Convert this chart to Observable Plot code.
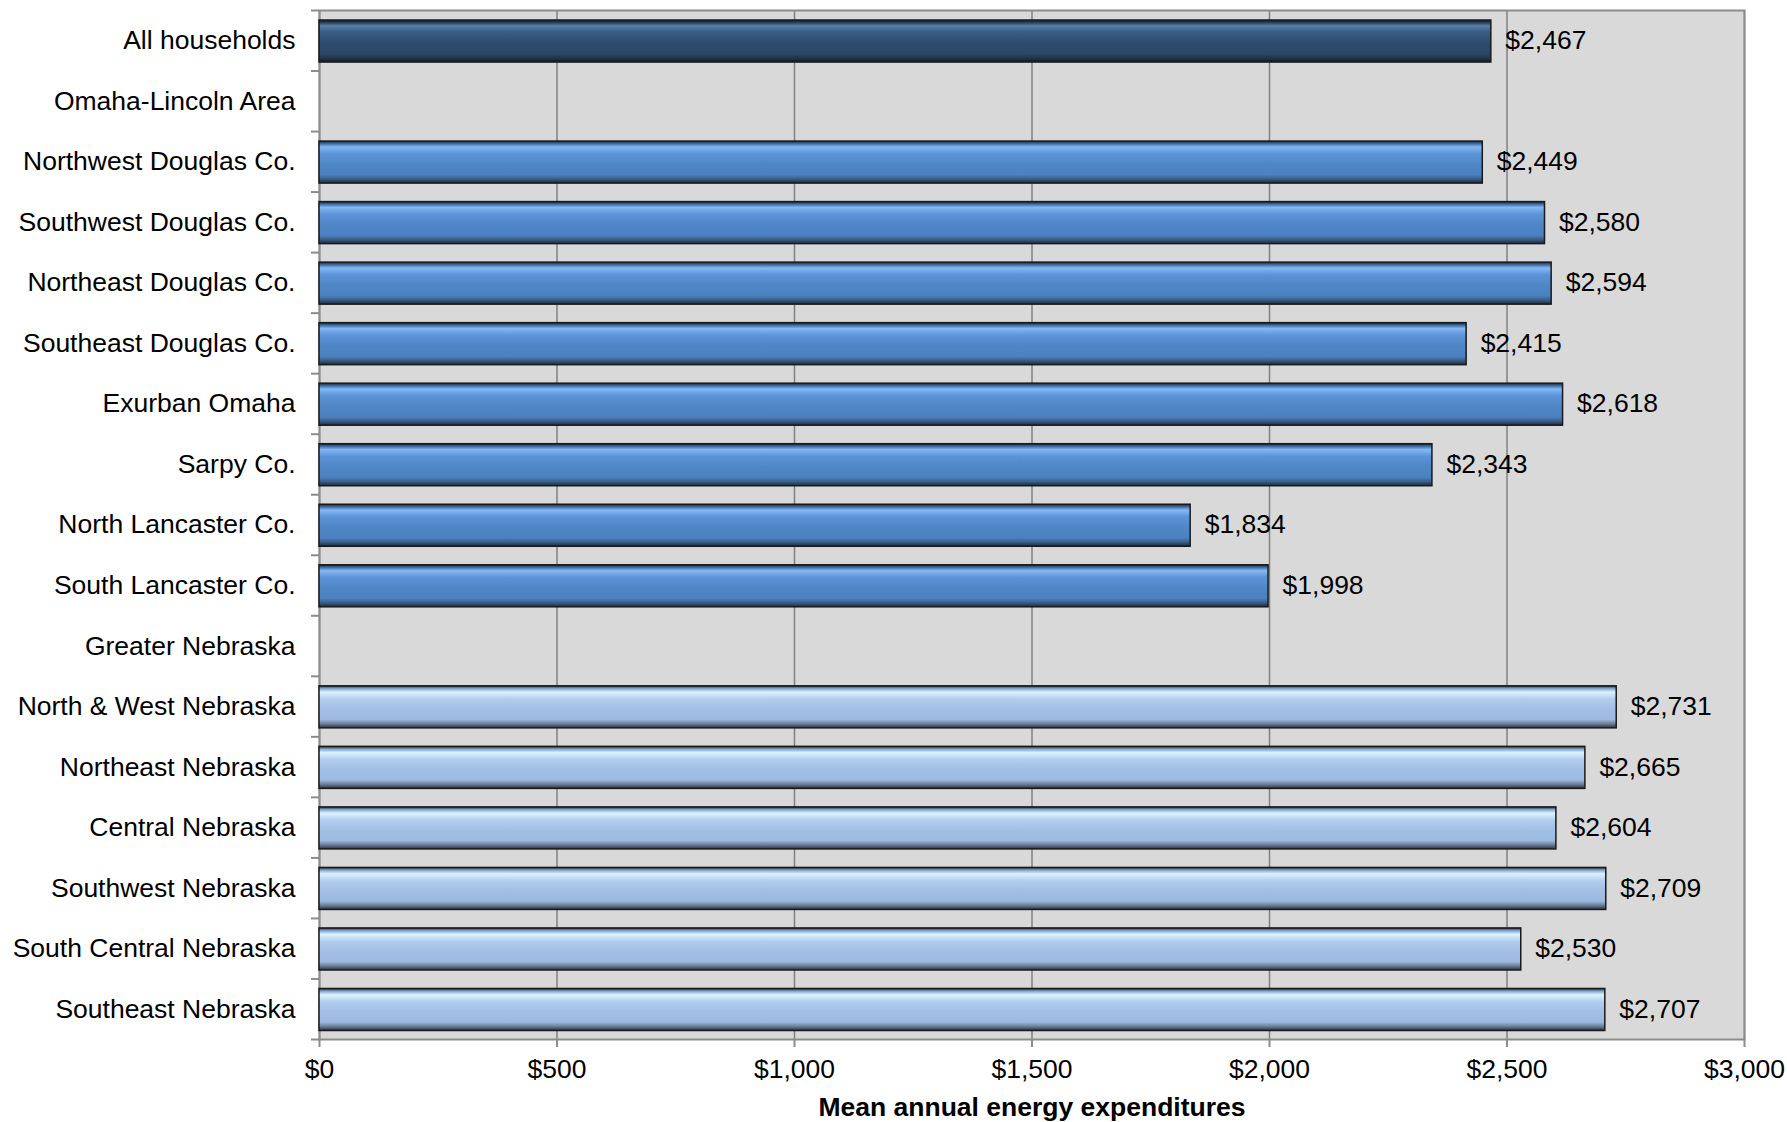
<!DOCTYPE html>
<html>
<head>
<meta charset="utf-8">
<script src="https://cdn.jsdelivr.net/npm/d3@7"></script>
<script src="https://cdn.jsdelivr.net/npm/@observablehq/plot@0.6"></script>
<style>
  html, body { margin: 0; padding: 0; background: #ffffff; }
  #chart svg { display: block; }
</style>
</head>
<body>
<div id="chart"></div>
<script>
const categories = [
  "All households",
  "Omaha-Lincoln Area",
  "Northwest Douglas Co.",
  "Southwest Douglas Co.",
  "Northeast Douglas Co.",
  "Southeast Douglas Co.",
  "Exurban Omaha",
  "Sarpy Co.",
  "North Lancaster Co.",
  "South Lancaster Co.",
  "Greater Nebraska",
  "North & West Nebraska",
  "Northeast Nebraska",
  "Central Nebraska",
  "Southwest Nebraska",
  "South Central Nebraska",
  "Southeast Nebraska"
];
const values = [2467, null, 2449, 2580, 2594, 2415, 2618, 2343, 1834, 1998, null, 2731, 2665, 2604, 2709, 2530, 2707];
const groups = ["all", "header", "omaha", "omaha", "omaha", "omaha", "omaha", "omaha", "omaha", "omaha", "header", "greater", "greater", "greater", "greater", "greater", "greater"];
const xTicks = [0, 500, 1000, 1500, 2000, 2500, 3000];
const xLabel = "Mean annual energy expenditures";

const data = categories.map((c, i) => ({category: c, value: values[i], group: groups[i]}));
const bars = data.filter(d => d.value != null);
const money = d => "$" + d3.format(",")(d);

const font = "'Liberation Sans', Arial, sans-serif";
const barOpts = g => ({
  filter: d => d.group === g,
  x: "value", y: "category",
  fill: `url(#grad-${g})`,
  stroke: "#1a1a1a", strokeWidth: 1.5,
  insetTop: 10, insetBottom: 8.5
});

const chart = Plot.plot({
  width: 1787,
  height: 1122,
  marginLeft: 319,
  marginRight: 43,
  marginTop: 10,
  marginBottom: 83,
  style: {fontFamily: font, fontSize: "26.5px", color: "#000", background: "#ffffff"},
  x: {domain: [0, 3000], ticks: xTicks},
  y: {domain: categories, padding: 0, round: false},
  marks: [
    Plot.frame({fill: "#d9d9d9", stroke: null}),
    Plot.gridX(xTicks, {stroke: "#808080", strokeOpacity: 1, strokeWidth: 1.5}),
    Plot.frame({stroke: "#8c8c8c", strokeWidth: 2}),
    Plot.barX(bars, barOpts("all")),
    Plot.barX(bars, barOpts("omaha")),
    Plot.barX(bars, barOpts("greater")),
    Plot.text(bars, {x: "value", y: "category", text: d => money(d.value), textAnchor: "start", dx: 14, dy: 0, fontSize: 26.5, fill: "#000"}),
    Plot.axisY({tickSize: 0, tickPadding: 24, fontSize: 26.5, label: null}),
    Plot.axisY({tickSize: 8, tickFormat: () => "", stroke: "#8c8c8c", strokeWidth: 2, dy: -30.27, label: null}),
    Plot.axisY([categories[categories.length - 1]], {tickSize: 8, tickFormat: () => "", stroke: "#8c8c8c", strokeWidth: 2, dy: 30.27, label: null}),
    Plot.axisX(xTicks, {tickSize: 8, tickPadding: 12, stroke: "#8c8c8c", strokeWidth: 2, tickFormat: money, fontSize: 26.5,
      label: xLabel, labelAnchor: "center", labelOffset: 76, labelArrow: "none"})
  ]
});

const svgNS = "http://www.w3.org/2000/svg";
const defs = document.createElementNS(svgNS, "defs");
const gradients = {
  all: [[0, "#0f1a26"], [0.06, "#253f5c"], [0.14, "#5a7ea6"], [0.28, "#395d85"], [0.55, "#2d4b6d"], [0.8, "#2b4767"], [0.9, "#22364d"], [1, "#111a24"]],
  omaha: [[0, "#16263a"], [0.06, "#3c6aa2"], [0.14, "#84b8f4"], [0.3, "#5c94d8"], [0.55, "#4f86c6"], [0.8, "#4b81c1"], [0.9, "#3a5e88"], [1, "#1f2b38"]],
  greater: [[0, "#1e2733"], [0.06, "#7f9fc8"], [0.15, "#dcf4ff"], [0.32, "#b1cdee"], [0.55, "#a2bfe5"], [0.8, "#9cb9df"], [0.9, "#6c809a"], [1, "#2c3340"]]
};
for (const [g, stops] of Object.entries(gradients)) {
  const lg = document.createElementNS(svgNS, "linearGradient");
  lg.setAttribute("id", `grad-${g}`);
  lg.setAttribute("x1", "0"); lg.setAttribute("y1", "0");
  lg.setAttribute("x2", "0"); lg.setAttribute("y2", "1");
  for (const [o, c] of stops) {
    const s = document.createElementNS(svgNS, "stop");
    s.setAttribute("offset", o);
    s.setAttribute("stop-color", c);
    lg.appendChild(s);
  }
  defs.appendChild(lg);
}
chart.insertBefore(defs, chart.firstChild);
chart.querySelectorAll("[aria-label='x-axis label'] text, [aria-label='x-axis label']").forEach(el => {
  el.setAttribute("font-weight", "bold");
});
document.getElementById("chart").appendChild(chart);
</script>
</body>
</html>
